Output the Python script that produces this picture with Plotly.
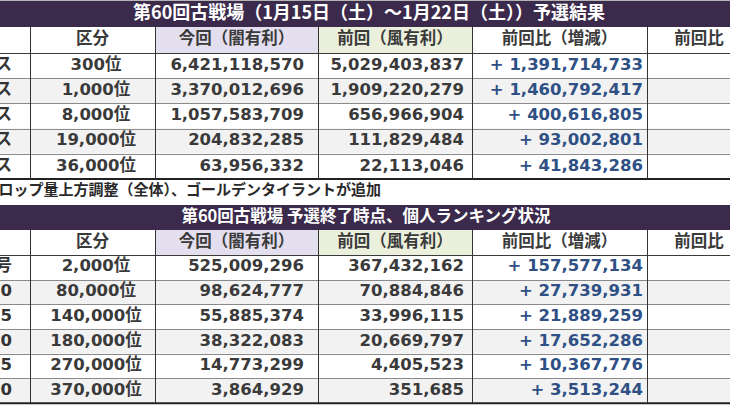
import plotly.graph_objects as go

# 予選結果（団ランキング）
labels1 = ["Aクラス", "Bクラス", "Cクラス", "Dクラス", "Eクラス"]
ranks1 = ["300位", "1,000位", "8,000位", "19,000位", "36,000位"]
now1 = [6421118570, 3370012696, 1057583709, 204832285, 63956332]
prev1 = [5029403837, 1909220279, 656966904, 111829484, 22113046]
diff1 = [1391714733, 1460792417, 400616805, 93002801, 41843286]

# 個人ランキング状況
labels2 = ["称号", "勲章×30", "勲章×25", "勲章×20", "勲章×15", "勲章×10"]
ranks2 = ["2,000位", "80,000位", "140,000位", "180,000位", "270,000位", "370,000位"]
now2 = [525009296, 98624777, 55885374, 38322083, 14773299, 3864929]
prev2 = [367432162, 70884846, 33996115, 20669797, 4405523, 351685]
diff2 = [157577134, 27739931, 21889259, 17652286, 10367776, 3513244]

headers = ["", "区分", "今回（闇有利）", "前回（風有利）", "前回比（増減）", "前回比"]
title1 = "第60回古戦場（1月15日（土）～1月22日（土））予選結果"
title2 = "第60回古戦場 予選終了時点、個人ランキング状況"
note = "※ドロップ量上方調整（全体）、ゴールデンタイラントが追加"

W, H = 730, 410
col_x = [-100, 30, 155, 318, 472, 647, 760]
head_fill = ["white", "white", "#e4dfee", "#ebf0dd", "white", "white"]
BAR = "#3b2a4b"
JP = "Noto Sans CJK JP"
NUM = "DejaVu Sans, Noto Sans CJK JP"

fig = go.Figure()
shapes = []


def rect(x0, y0, x1, y1, color):
    shapes.append(dict(type="rect", xref="x", yref="y", x0=x0, x1=x1, y0=y0, y1=y1,
                       fillcolor=color, line=dict(width=0), layer="below"))


def line(x0, y0, x1, y1, color, w=1):
    shapes.append(dict(type="line", xref="x", yref="y", x0=x0, x1=x1, y0=y0, y1=y1,
                       line=dict(color=color, width=w), layer="above"))


def text(xs, ys, txt, pos, size, color, family, weight=700):
    fig.add_trace(go.Scatter(x=xs, y=ys, text=txt, mode="text", textposition=pos,
                             textfont=dict(size=size, color=color, family=family, weight=weight),
                             hoverinfo="skip", showlegend=False, cliponaxis=True))


def table(top, bar_h, head_h, row_h, title, tsize, tx, labels, ranks, now, prev, diff):
    head_top = top + bar_h
    body_top = head_top + head_h
    n = len(ranks)
    bottom = body_top + n * row_h
    rect(-5, top, W + 5, head_top, BAR)
    text([tx], [top + bar_h / 2], [title], "middle center", tsize, "white", JP)
    for i in range(len(headers)):
        rect(col_x[i], head_top, col_x[i + 1], body_top, head_fill[i])
    ys = [body_top + (k + 0.5) * row_h for k in range(n)]
    for k in range(n):
        rect(-5, body_top + k * row_h, W + 5, body_top + (k + 1) * row_h,
             "white" if k % 2 == 0 else "#f2f2f2")
    # borders
    line(-5, body_top + 0.5, W + 5, body_top + 0.5, "#3a3a3a")
    for k in range(1, n):
        yk = round(body_top + k * row_h) + 0.5
        line(-5, yk, W + 5, yk, "#8a8a8a")
    line(-5, bottom, W + 5, bottom, "#222222", 2)
    for cx in col_x[1:-1]:
        line(cx + 0.5, head_top, cx + 0.5, bottom, "#333333")
    # header text
    cxs = [(col_x[i] + col_x[i + 1]) / 2 for i in range(1, len(headers))]
    cxs[-1] = 699
    text(cxs, [head_top + head_h / 2] * len(cxs), headers[1:], "middle center", 16.5, "#3a3a3a", JP)
    # body text
    text([12] * n, ys, labels, "middle left", 16.5, "#333333", NUM)
    text([96] * n, ys, ranks, "middle center", 16.5, "#3a3a3a", NUM)
    text([304] * n, ys, [f"{v:,}" for v in now], "middle left", 16.5, "#3a3a3a", NUM)
    text([464] * n, ys, [f"{v:,}" for v in prev], "middle left", 16.5, "#3a3a3a", NUM)
    text([643] * n, ys, [f"+ {v:,}" for v in diff], "middle left", 16.5, "#2f5084", NUM)
    return bottom


line(-5, 0.5, W + 5, 0.5, "#b5b5b5")
table(1, 26, 26, 25.2, title1, 18, 369, labels1, ranks1, now1, prev1, diff1)
text([381], [191], [note], "middle left", 15, "#2a2a2a", JP)
table(205, 25, 25, 24.7, title2, 16.5, 366, labels2, ranks2, now2, prev2, diff2)

fig.update_layout(
    width=W, height=H, margin=dict(l=0, r=0, t=0, b=0),
    paper_bgcolor="white", plot_bgcolor="white", shapes=shapes,
    xaxis=dict(range=[0, W], visible=False, fixedrange=True),
    yaxis=dict(range=[H, 0], visible=False, fixedrange=True),
    showlegend=False,
)

fig.write_html("out.html", config={"displayModeBar": False},
               post_script="document.body.style.margin='0';")
